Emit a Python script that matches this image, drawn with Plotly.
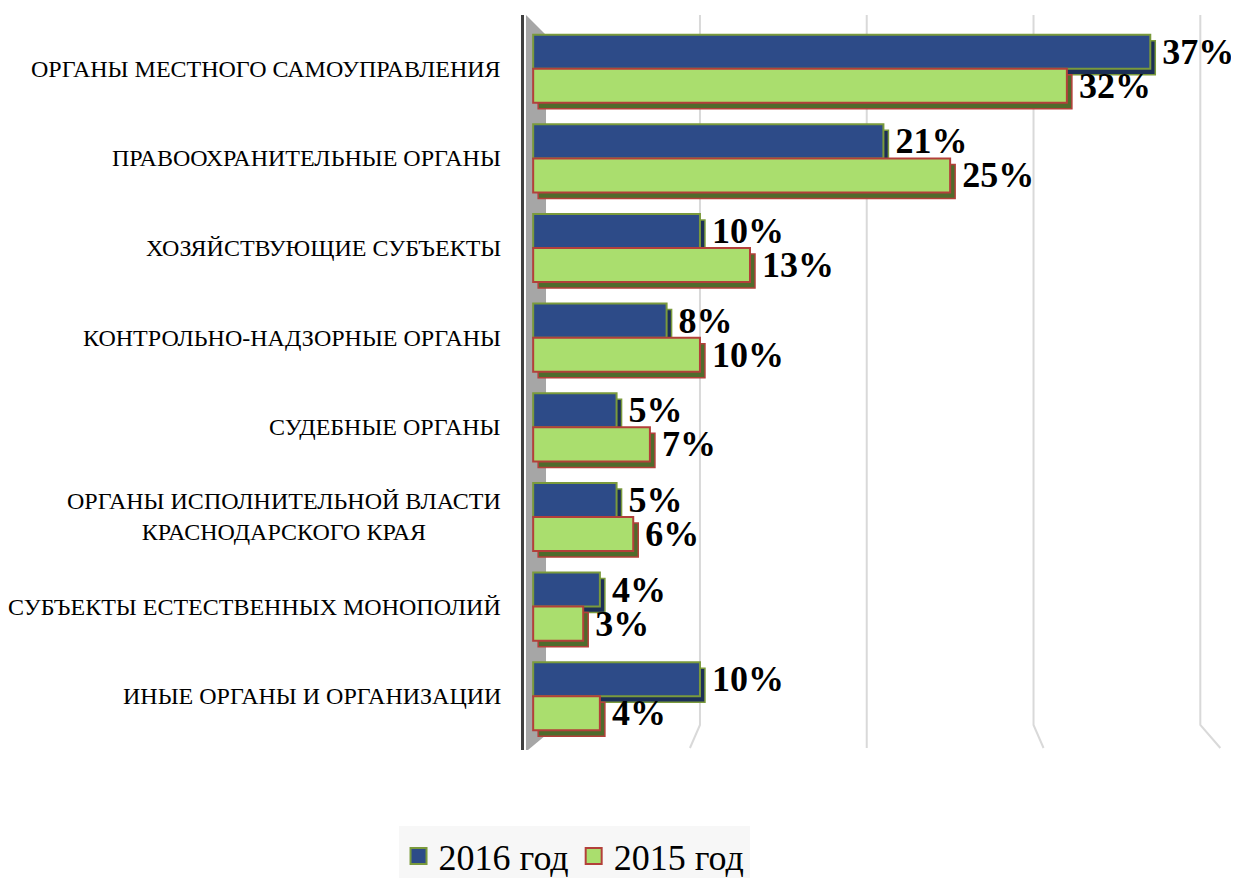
import plotly.graph_objects as go

# ---------------- data ----------------
CATEGORIES = [
    "ОРГАНЫ МЕСТНОГО САМОУПРАВЛЕНИЯ",
    "ПРАВООХРАНИТЕЛЬНЫЕ ОРГАНЫ",
    "ХОЗЯЙСТВУЮЩИЕ СУБЪЕКТЫ",
    "КОНТРОЛЬНО-НАДЗОРНЫЕ ОРГАНЫ",
    "СУДЕБНЫЕ ОРГАНЫ",
    "ОРГАНЫ ИСПОЛНИТЕЛЬНОЙ ВЛАСТИ<br>КРАСНОДАРСКОГО КРАЯ",
    "СУБЪЕКТЫ ЕСТЕСТВЕННЫХ МОНОПОЛИЙ",
    "ИНЫЕ ОРГАНЫ И ОРГАНИЗАЦИИ",
]
SERIES_NAMES = ["2016 год", "2015 год"]
VALUES_2016 = [37, 21, 10, 8, 5, 5, 4, 10]
VALUES_2015 = [32, 25, 13, 10, 7, 6, 3, 4]
GRID_VALUES = [10, 20, 30, 40]

# ---------------- layout geometry (page pixels; page body has an 8px margin) ----------------
BODY = 8
W, H = 1239 - BODY, 878 - BODY
PLOT_LEFT, PLOT_TOP, PLOT_BOTTOM = 524, 15, 750
XMIN, XMAX = -0.55, 41.6
PX_PER_UNIT = 16.67
PLOT_RIGHT = PLOT_LEFT + (XMAX - XMIN) * PX_PER_UNIT
PX_PER_CAT = (PLOT_BOTTOM - PLOT_TOP) / 8.2


def py(px):
    return (PLOT_BOTTOM - px) / (PLOT_BOTTOM - PLOT_TOP)


def dx(px):
    return XMIN + (px - PLOT_LEFT) / PX_PER_UNIT


FONT = "Liberation Serif, Times New Roman, serif"
BLUE, BLUE_EDGE, BLUE_DEPTH = "#2d4b88", "#7a9a3c", "#1c2f57"
GREEN, GREEN_EDGE, GREEN_DEPTH = "#aade6e", "#b3403a", "#4f6b2c"

BAR_W = 0.38
DEPTH_X = 5 / PX_PER_UNIT
DEPTH_Y = 6 / PX_PER_CAT

fig = go.Figure()

series = [
    (SERIES_NAMES[0], VALUES_2016, BLUE, BLUE_EDGE, BLUE_DEPTH, -BAR_W),
    (SERIES_NAMES[1], VALUES_2015, GREEN, GREEN_EDGE, GREEN_DEPTH, 0.0),
]

# depth (extrusion) faces drawn first
for name, vals, col, edge, depth, off in series:
    fig.add_trace(go.Bar(
        y=CATEGORIES, x=vals, orientation="h", base=DEPTH_X,
        offset=off + DEPTH_Y, width=BAR_W,
        marker=dict(color=depth, line=dict(color=edge, width=1.5)),
        hoverinfo="skip", showlegend=False,
    ))

# front faces with value labels
for name, vals, col, edge, depth, off in series:
    fig.add_trace(go.Bar(
        y=CATEGORIES, x=vals, orientation="h", name=name,
        offset=off, width=BAR_W,
        marker=dict(color=col, line=dict(color=edge, width=2)),
        texttemplate="\u00a0%{x}%", textposition="outside", constraintext="none",
        textfont=dict(family=FONT, size=36, color="black", weight="bold"),
        cliponaxis=False, showlegend=False,
    ))

# legend entries (larger square symbols)
for name, vals, col, edge, depth, off in series:
    fig.add_trace(go.Scatter(
        x=[None], y=[None], mode="markers", name=name,
        marker=dict(symbol="square", size=16, color=col, line=dict(color=edge, width=2)),
    ))

shapes = []
# side wall
shapes.append(dict(
    type="path", xref="x", yref="paper", layer="below",
    path=(f"M {dx(526)},{py(15)} L {dx(546)},{py(35)} L {dx(546)},{py(735)} "
          f"L {dx(528)},{py(750)} L {dx(526)},{py(750)} Z"),
    fillcolor="#a6a6a6", line=dict(width=0),
))
# gridlines with perspective feet
for g in GRID_VALUES:
    shapes.append(dict(
        type="path", xref="x", yref="paper", layer="below",
        path=f"M {g},{py(15)} L {g},{py(725)} L {g + 0.06 * (g - 20)},{py(748)}",
        line=dict(color="#d9d9d9", width=2),
    ))

annotations = []
for cat in CATEGORIES:
    annotations.append(dict(
        x=0, xref="paper", y=cat, yref="y", text=cat, showarrow=False,
        xanchor="right", yanchor="middle", align="center", xshift=-21,
        font=dict(family=FONT, size=24, color="black"),
    ))

fig.update_layout(
    width=W, height=H,
    margin=dict(l=PLOT_LEFT - BODY, r=1239 - PLOT_RIGHT, t=PLOT_TOP - BODY,
                b=878 - PLOT_BOTTOM, autoexpand=False),
    paper_bgcolor="white", plot_bgcolor="rgba(0,0,0,0)",
    barmode="overlay",
    xaxis=dict(range=[XMIN, XMAX], showgrid=False, zeroline=False,
               showticklabels=False, ticks="", showline=False),
    yaxis=dict(type="category", categoryorder="array", categoryarray=CATEGORIES,
               range=[7.6, -0.6], showticklabels=False, ticks="", showgrid=False,
               showline=True, linecolor="#404040", linewidth=3, zeroline=False),
    shapes=shapes, annotations=annotations,
    legend=dict(orientation="h", x=(574 - PLOT_LEFT) / (PLOT_RIGHT - PLOT_LEFT), xanchor="center",
                y=py(886), yanchor="bottom", bgcolor="#f7f7f7",
                font=dict(family=FONT, size=36, color="black"),
                itemwidth=30, tracegroupgap=0),
    font=dict(family=FONT),
)

fig.write_html("out.html")
